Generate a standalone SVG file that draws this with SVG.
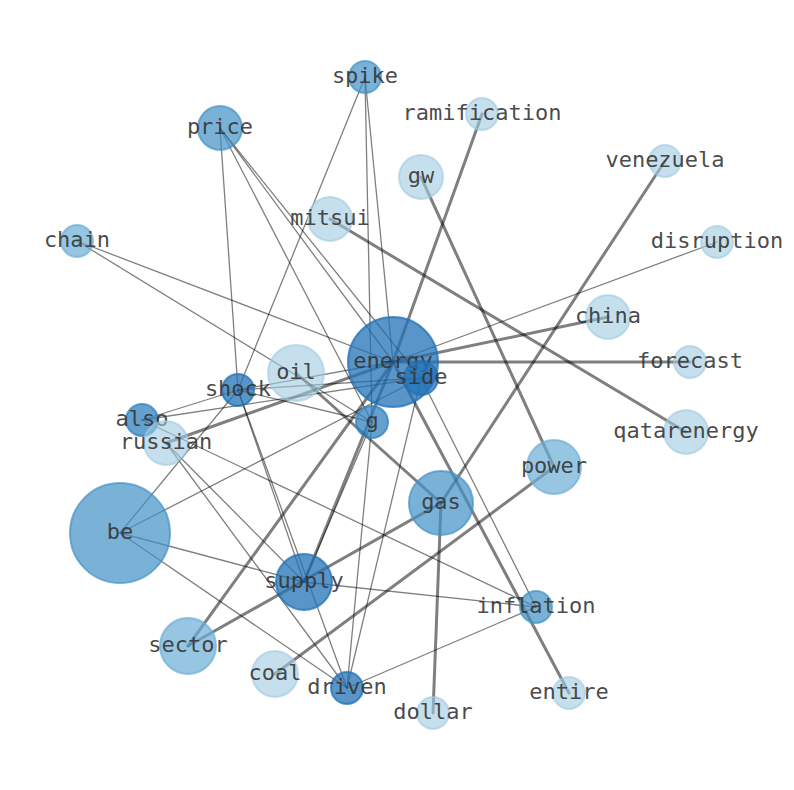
<svg xmlns="http://www.w3.org/2000/svg" width="794" height="790" viewBox="0 0 794 790">
<style>
.e{stroke:#000;stroke-opacity:0.5;stroke-linecap:round;fill:none}
.t{stroke-width:1.3}
.k{stroke-width:3}
circle{stroke-width:2}
.l1{fill:#9ecae1;fill-opacity:0.6;stroke:#9ecae1;stroke-opacity:0.6}
.l2{fill:#6baed6;fill-opacity:0.7;stroke:#6baed6;stroke-opacity:0.7}
.l3{fill:#4292c6;fill-opacity:0.7;stroke:#4292c6;stroke-opacity:0.7}
.l4{fill:#3182bd;fill-opacity:0.75;stroke:#3182bd;stroke-opacity:0.75}
.l5{fill:#2171b5;fill-opacity:0.75;stroke:#2171b5;stroke-opacity:0.75}
text{font-family:"DejaVu Sans Mono","Liberation Mono",monospace;font-size:22px;fill:#333;fill-opacity:0.9;text-anchor:middle}
</style>
<rect width="794" height="790" fill="#fff"/>
<g id="edges">
<line class="e k" x1="330" y1="219" x2="686" y2="432"/>
<line class="e k" x1="421" y1="177" x2="554" y2="467"/>
<line class="e k" x1="482" y1="114" x2="393" y2="362"/>
<line class="e k" x1="665" y1="161" x2="441" y2="503"/>
<line class="e k" x1="275" y1="674" x2="554" y2="467"/>
<line class="e k" x1="433" y1="713" x2="441" y2="503"/>
<line class="e k" x1="569" y1="693" x2="393" y2="362"/>
<line class="e k" x1="296" y1="373" x2="441" y2="503"/>
<line class="e k" x1="608" y1="317" x2="393" y2="362"/>
<line class="e k" x1="690" y1="362" x2="393" y2="362"/>
<line class="e k" x1="166" y1="443" x2="393" y2="362"/>
<line class="e k" x1="188" y1="646" x2="393" y2="362"/>
<line class="e k" x1="188" y1="646" x2="441" y2="503"/>
<line class="e k" x1="304" y1="582" x2="393" y2="362"/>
<line class="e t" x1="365" y1="77" x2="238" y2="390"/>
<line class="e t" x1="365" y1="77" x2="372" y2="422"/>
<line class="e t" x1="365" y1="77" x2="393" y2="362"/>
<line class="e t" x1="220" y1="128" x2="238" y2="390"/>
<line class="e t" x1="220" y1="128" x2="372" y2="422"/>
<line class="e t" x1="220" y1="128" x2="393" y2="362"/>
<line class="e t" x1="220" y1="128" x2="421" y2="378"/>
<line class="e t" x1="77" y1="241" x2="393" y2="362"/>
<line class="e t" x1="77" y1="241" x2="372" y2="422"/>
<line class="e t" x1="717" y1="242" x2="393" y2="362"/>
<line class="e t" x1="238" y1="390" x2="142" y2="420"/>
<line class="e t" x1="238" y1="390" x2="421" y2="378"/>
<line class="e t" x1="238" y1="390" x2="372" y2="422"/>
<line class="e t" x1="238" y1="390" x2="304" y2="582"/>
<line class="e t" x1="238" y1="390" x2="347" y2="688"/>
<line class="e t" x1="238" y1="390" x2="393" y2="362"/>
<line class="e t" x1="142" y1="420" x2="421" y2="378"/>
<line class="e t" x1="142" y1="420" x2="536" y2="607"/>
<line class="e t" x1="166" y1="443" x2="347" y2="688"/>
<line class="e t" x1="166" y1="443" x2="304" y2="582"/>
<line class="e t" x1="120" y1="533" x2="238" y2="390"/>
<line class="e t" x1="120" y1="533" x2="421" y2="378"/>
<line class="e t" x1="120" y1="533" x2="304" y2="582"/>
<line class="e t" x1="120" y1="533" x2="347" y2="688"/>
<line class="e t" x1="372" y1="422" x2="304" y2="582"/>
<line class="e t" x1="372" y1="422" x2="347" y2="688"/>
<line class="e t" x1="421" y1="378" x2="347" y2="688"/>
<line class="e t" x1="421" y1="378" x2="536" y2="607"/>
<line class="e t" x1="304" y1="582" x2="536" y2="607"/>
<line class="e t" x1="347" y1="688" x2="536" y2="607"/>
</g>
<g id="node-spike"><circle class="l3" cx="365" cy="77" r="16"/><text x="365" y="83">spike</text></g>
<g id="node-ramification"><circle class="l1" cx="482" cy="114" r="16"/><text x="482" y="120">ramification</text></g>
<g id="node-price"><circle class="l3" cx="220" cy="128" r="22"/><text x="220" y="134">price</text></g>
<g id="node-gw"><circle class="l1" cx="421" cy="177" r="22"/><text x="421" y="183">gw</text></g>
<g id="node-venezuela"><circle class="l1" cx="665" cy="161" r="16"/><text x="665" y="167">venezuela</text></g>
<g id="node-mitsui"><circle class="l1" cx="330" cy="219" r="22"/><text x="330" y="225">mitsui</text></g>
<g id="node-chain"><circle class="l2" cx="77" cy="241" r="16"/><text x="77" y="247">chain</text></g>
<g id="node-disruption"><circle class="l1" cx="717" cy="242" r="16"/><text x="717" y="248">disruption</text></g>
<g id="node-china"><circle class="l1" cx="608" cy="317" r="22"/><text x="608" y="323">china</text></g>
<g id="node-energy"><circle class="l5" cx="393" cy="362" r="45"/><text x="393" y="368">energy</text></g>
<g id="node-side"><circle class="l5" cx="421" cy="378" r="17"/><text x="421" y="384">side</text></g>
<g id="node-forecast"><circle class="l1" cx="690" cy="362" r="16"/><text x="690" y="368">forecast</text></g>
<g id="node-oil"><circle class="l1" cx="296" cy="373" r="28"/><text x="296" y="379">oil</text></g>
<g id="node-shock"><circle class="l5" cx="238" cy="390" r="16"/><text x="238" y="396">shock</text></g>
<g id="node-also"><circle class="l4" cx="142" cy="420" r="16"/><text x="142" y="426">also</text></g>
<g id="node-russian"><circle class="l1" cx="166" cy="443" r="22"/><text x="166" y="449">russian</text></g>
<g id="node-g"><circle class="l4" cx="372" cy="422" r="16"/><text x="372" y="428">g</text></g>
<g id="node-qatarenergy"><circle class="l1" cx="686" cy="432" r="22"/><text x="686" y="438">qatarenergy</text></g>
<g id="node-power"><circle class="l2" cx="554" cy="467" r="27"/><text x="554" y="473">power</text></g>
<g id="node-gas"><circle class="l3" cx="441" cy="503" r="32"/><text x="441" y="509">gas</text></g>
<g id="node-be"><circle class="l3" cx="120" cy="533" r="50"/><text x="120" y="539">be</text></g>
<g id="node-supply"><circle class="l5" cx="304" cy="582" r="28"/><text x="304" y="588">supply</text></g>
<g id="node-inflation"><circle class="l3" cx="536" cy="607" r="16"/><text x="536" y="613">inflation</text></g>
<g id="node-sector"><circle class="l2" cx="188" cy="646" r="28"/><text x="188" y="652">sector</text></g>
<g id="node-coal"><circle class="l1" cx="275" cy="674" r="23"/><text x="275" y="680">coal</text></g>
<g id="node-driven"><circle class="l5" cx="347" cy="688" r="16"/><text x="347" y="694">driven</text></g>
<g id="node-entire"><circle class="l1" cx="569" cy="693" r="16"/><text x="569" y="699">entire</text></g>
<g id="node-dollar"><circle class="l1" cx="433" cy="713" r="16"/><text x="433" y="719">dollar</text></g>
</svg>
